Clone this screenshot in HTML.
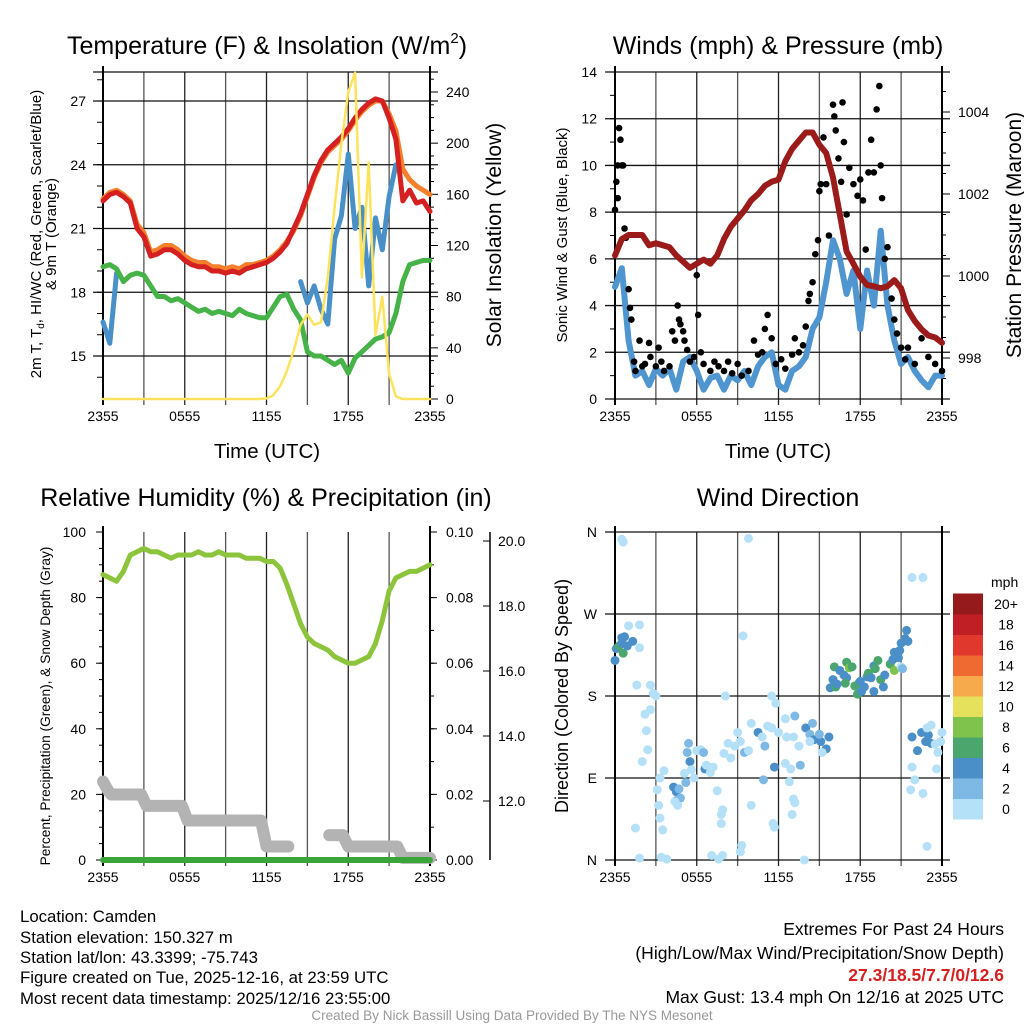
<!DOCTYPE html>
<html><head><meta charset="utf-8"><style>
body{margin:0;background:#fff;}
svg{display:block;font-family:"Liberation Sans",sans-serif;}
</style></head><body>
<svg id="c" width="1024" height="1024" viewBox="0 0 1024 1024">
<g id="static" fill="#000">
<text x="267" y="54" font-size="25" text-anchor="middle">Temperature (F) &amp; Insolation (W/m<tspan font-size="15" dy="-11">2</tspan><tspan dy="11">)</tspan></text>
<text x="778" y="54" font-size="25" text-anchor="middle">Winds (mph) &amp; Pressure (mb)</text>
<text x="266" y="506" font-size="25" text-anchor="middle">Relative Humidity (%) &amp; Precipitation (in)</text>
<text x="778" y="506" font-size="25" text-anchor="middle">Wind Direction</text>
<text x="267" y="458" font-size="20.5" text-anchor="middle">Time (UTC)</text>
<text x="778" y="458" font-size="20.5" text-anchor="middle">Time (UTC)</text>
<text transform="translate(41,234) rotate(-90)" font-size="15" text-anchor="middle">2m T, T<tspan font-size="10" dy="3">d</tspan><tspan dy="-3">, HI/WC (Red, Green, Scarlet/Blue)</tspan></text>
<text transform="translate(56,234) rotate(-90)" font-size="15" text-anchor="middle">&amp; 9m T (Orange)</text>
<text transform="translate(501,235) rotate(-90)" font-size="21" text-anchor="middle">Solar Insolation (Yellow)</text>
<text transform="translate(567,235) rotate(-90)" font-size="15" text-anchor="middle">Sonic Wind &amp; Gust (Blue, Black)</text>
<text transform="translate(1021,235) rotate(-90)" font-size="21" text-anchor="middle">Station Pressure (Maroon)</text>
<text transform="translate(50,706) rotate(-90)" font-size="13.7" text-anchor="middle">Percent, Precipitation (Green), &amp; Snow Depth (Gray)</text>
<text transform="translate(568,696) rotate(-90)" font-size="18" text-anchor="middle">Direction (Colored By Speed)</text>
<text x="991" y="587" font-size="14">mph</text>
<g font-size="16.8">
<text x="20" y="922">Location: Camden</text>
<text x="20" y="943">Station elevation: 150.327 m</text>
<text x="20" y="963">Station lat/lon: 43.3399; -75.743</text>
<text x="20" y="983">Figure created on Tue, 2025-12-16, at 23:59 UTC</text>
<text x="20" y="1004">Most recent data timestamp: 2025/12/16 23:55:00</text>
</g>
<g font-size="17.5" text-anchor="end">
<text x="1004" y="935">Extremes For Past 24 Hours</text>
<text x="1004" y="959">(High/Low/Max Wind/Precipitation/Snow Depth)</text>
<text x="1004" y="981" fill="#d42020" font-weight="bold">27.3/18.5/7.7/0/12.6</text>
<text x="1004" y="1003">Max Gust: 13.4 mph On 12/16 at 2025 UTC</text>
</g>
<text x="512" y="1020" font-size="13.5" fill="#999" text-anchor="middle">Created By Nick Bassill Using Data Provided By The NYS Mesonet</text>
</g>
</svg>
<script>
// ---------- data ----------
const hours=[];for(let i=0;i<=48;i++)hours.push(i*0.5);
const xTickLabels=["2355","0555","1155","1755","2355"];
const tempRed=[22.3,22.6,22.7,22.5,22.2,21.0,20.6,19.7,19.8,20.0,20.0,19.8,19.5,19.3,19.2,19.2,19.0,19.0,18.9,19.0,18.9,19.1,19.2,19.3,19.4,19.6,19.9,20.3,21.0,21.7,22.6,23.5,24.2,24.7,25.0,25.3,25.7,26.2,26.6,26.9,27.1,27.0,26.2,25.2,22.3,22.8,22.2,22.3,21.8];
const temp9m=[22.4,22.7,22.8,22.6,22.3,21.2,20.8,19.9,20.0,20.2,20.2,20.0,19.7,19.5,19.4,19.4,19.2,19.2,19.1,19.2,19.1,19.3,19.3,19.4,19.5,19.7,20.0,20.4,20.9,21.6,22.5,23.4,24.1,24.6,24.9,25.2,25.6,26.1,26.5,26.8,27.0,27.0,26.4,25.6,23.8,23.3,23.0,22.8,22.6];
const dewGreen=[19.2,19.3,19.1,18.5,18.8,18.9,18.8,18.3,17.8,17.8,17.6,17.7,17.5,17.3,17.1,17.2,17.0,17.1,17.0,16.9,17.2,17.0,16.9,16.8,16.8,17.3,17.8,17.9,17.2,16.7,15.2,15.0,15.0,14.8,14.6,14.8,14.2,14.9,15.2,15.5,15.8,15.9,16.1,17.0,18.5,19.3,19.4,19.5,19.5];
const windChill=[16.6,15.6,18.9,null,null,null,null,null,null,null,null,null,null,null,null,null,null,null,null,null,null,null,null,null,null,null,null,null,null,18.5,17.5,18.3,17.2,16.5,20.5,21.6,24.5,21.0,22.0,18.3,21.5,20.0,22.5,24.0,null,null,null,null,null];
const solar=[0,0,0,0,0,0,0,0,0,0,0,0,0,0,0,0,0,0,0,0,0,0,0,0,0.5,3,10,22,38,58,66,58,60,95,150,200,240,255,95,185,50,80,20,2,0,0,0,0,0];
const tempTicks=[15,18,21,24,27];
const solarTicks=[0,40,80,120,160,200,240];
const windBlue=[4.8,5.6,2.5,1.0,1.2,0.6,1.3,1.0,1.3,0.4,1.6,1.8,1.2,0.4,0.9,1.0,0.4,1.0,0.8,1.2,0.6,1.4,1.8,2.0,0.6,0.4,1.2,1.4,1.8,3.0,3.5,5.0,6.8,6.0,4.5,5.5,3.0,5.5,4.0,7.2,4.0,2.5,1.5,1.8,1.2,0.8,0.5,1.0,1.0];
const pressure=[1000.5,1000.9,1001.0,1001.0,1001.0,1000.75,1000.8,1000.75,1000.7,1000.5,1000.35,1000.2,1000.3,1000.4,1000.3,1000.5,1000.9,1001.2,1001.4,1001.6,1001.85,1002.0,1002.2,1002.3,1002.35,1002.8,1003.1,1003.3,1003.5,1003.5,1003.2,1003.0,1002.4,1001.5,1000.6,1000.3,999.98,999.78,999.75,999.7,999.75,999.9,999.7,999.17,998.9,998.7,998.55,998.5,998.37];
const gustT=[0.0,0.1,0.2,0.2,0.3,0.4,0.5,0.6,0.7,0.8,1.0,1.1,1.2,1.4,1.5,1.8,2.0,2.2,2.5,2.6,3.0,3.2,3.4,3.6,4.0,4.2,4.4,4.6,4.7,4.8,5.0,5.1,5.3,5.5,5.8,6.0,6.1,6.3,6.5,7.0,7.3,7.6,8.0,8.3,8.6,9.0,9.3,9.8,10.2,10.5,10.8,11.0,11.2,11.5,11.8,12.2,12.5,13.0,13.2,13.5,13.8,14.0,14.2,14.3,14.5,14.7,14.9,15.0,15.1,15.3,15.5,15.7,16.0,16.1,16.2,16.4,16.6,16.7,16.8,17.0,17.2,17.5,17.8,18.0,18.2,18.4,18.6,18.8,19.0,19.2,19.4,19.5,19.6,19.8,20.0,20.3,20.5,20.7,21.0,21.3,21.5,22.0,22.5,23.0,23.5,24.0];
const gustV=[8.1,9.3,8.6,10,11.6,11.1,10,10,7.3,6.9,4.7,3.9,3.4,1.6,1.2,2.5,1.4,1.5,2.4,1.8,1.4,2.2,1.6,1.2,1.4,2.9,2.5,4.0,3.4,3.2,2.9,2.5,2.1,1.6,1.8,5.3,3.6,2.0,1.5,1.2,1.6,1.4,1.2,1.6,1.1,1.5,1.0,1.2,2.5,1.9,2.0,3.0,3.6,2.6,1.5,1.7,1.3,1.9,2.6,2.0,2.3,3.1,4.2,4.5,5.0,6.2,6.8,8.9,9.2,11.2,9.2,7.0,12.6,12.1,11.5,10.3,9.3,12.7,11.0,7.9,9.9,9.2,8.7,9.4,8.5,6.4,9.7,11.1,9.7,12.4,13.4,10.0,8.6,6.0,6.5,4.3,3.4,2.8,2.2,1.7,2.2,1.5,2.6,1.8,1.5,1.2];
const windTicks=[0,2,4,6,8,10,12,14];
const presTicks=[998,1000,1002,1004];
const rh=[87,86,85,88,93,94,95,94,94,93,92,93,93,93,94,93,93,94,93,93,93,92,92,92,91,91,89,84,78,72,68,66,65,64,62,61,60,60,61,62,66,73,82,86,87,88,88,89,90];
const precip=[0,0,0,0,0,0,0,0,0,0,0,0,0,0,0,0,0,0,0,0,0,0,0,0,0,0,0,0,0,0,0,0,0,0,0,0,0,0,0,0,0,0,0,0,0,0,0,0,0];
const snowT=[0,0.4,0.6,2.8,3.2,5.8,6.2,11.6,12.0,13.6,null,16.6,17.6,18.0,21.6,22.0,24];
const snowV=[12.6,12.3,12.2,12.2,11.85,11.85,11.4,11.4,10.6,10.6,null,10.95,10.95,10.6,10.6,10.25,10.25];
const rhTicks=[0,20,40,60,80,100];
const precipTicks=["0.00","0.02","0.04","0.06","0.08","0.10"];
const snowTicks=[12,14,16,18,20];
const dirT=[0,0.1,0.3,0.5,0.7,0.6,0.9,0.5,1.0,1.8,1.3,1.8,1.6,0.5,0.6,2.6,2.8,2.6,2.3,2.4,2.0,2.2,3.0,3.1,3.2,3.3,3.5,1.5,1.8,3.3,3.6,4.3,4.5,4.7,4.5,4.8,5.2,5.3,5.4,5.5,5.1,5.6,4.4,4.6,5.8,6.0,6.3,6.5,6.6,6.7,7.0,7.2,7.5,7.8,7.9,7.8,7.1,7.6,7.9,3.4,3.8,8.0,8.3,8.5,8.8,9.0,9.2,9.5,9.8,10.0,10.5,10.8,11.0,11.2,11.5,11.7,12.0,12.5,12.6,11.5,11.8,12.5,12.9,13.1,13.5,13.6,10.0,10.9,9.2,9.3,11.6,11.7,13.0,13.2,13.1,12.8,13.9,9.8,9.4,8.1,13.2,14.0,14.3,14.6,15.1,15.5,15.0,15.7,14.5,14.3,15.2,15.8,16.0,16.1,16.2,16.5,16.8,17.0,17.2,17.4,17.0,17.6,17.9,17.8,18.1,18.3,18.5,18.6,18.8,19.0,19.1,19.3,19.0,19.5,19.7,19.8,20.2,20.4,20.5,20.8,20.9,21.0,21.3,21.5,21.0,21.1,20.5,21.4,18.0,16.9,16.3,21.8,22.2,22.5,22.8,23.0,23.2,22.9,23.5,23.9,24.0,23.7,21.8,22.0,22.6,21.7,23.2,23.6,22.9,21.8,22.6];
const dirDeg=[219,232,235,238,245,227,235,244,257,258,240,233,192,352,349,192,183,165,142,121,108,160,180,77,60,46,33,35,2,90,98,80,75,78,65,68,85,118,128,108,95,99,64,60,90,120,121,118,100,104,96,102,76,50,55,40,5,1,5,3,1,117,128,112,125,140,130,118,120,150,140,135,125,147,145,102,140,155,135,180,172,106,100,135,125,104,60,88,9,16,40,36,50,63,67,86,0,353,246,180,158,145,138,132,130,122,138,135,150,130,118,189,198,212,190,208,203,217,211,212,200,191,194,182,185,190,201,205,200,213,210,219,185,198,190,203,215,220,208,222,230,238,243,240,212,210,228,252,196,194,193,135,120,140,130,137,128,145,127,130,140,118,102,88,73,77,148,100,15,310,310];
const dirSpd=[4,4,6,5,4,6,4,4,1,1,4,1,1,1,1,1,1,1,1,1,1,1,1,1,1,1,1,1,1,1,1,4,4,3,4,3,3,3,3,4,1,1,1,1,1,1,1,3,4,1,1,1,1,1,1,1,1,1,1,1,1,1,1,1,1,1,1,3,1,1,4,1,3,1,1,4,1,1,1,1,1,1,1,1,1,3,1,3,1,1,1,1,1,1,1,1,1,1,1,1,3,4,3,4,4,4,3,4,3,1,1,4,4,6,6,4,4,6,8,6,4,6,6,6,4,4,4,6,4,4,6,6,4,6,4,4,6,4,8,4,4,4,4,4,1,2,4,4,4,6,4,4,4,4,4,4,4,1,1,1,1,1,1,1,1,1,1,1,1,1,1];
const dirLabels=["N","E","S","W","N"];
const cbLabels=["0","2","4","6","8","10","12","14","16","18","20+"];
const cbColors=["#b5e1f8","#7db9e4","#4a8fc7","#4aa66c","#7fc24c","#e6e15c","#f6aa4c","#ef6a30","#e0382c","#bf1f25","#951a1b"];

// ---------- helpers ----------
const NS="http://www.w3.org/2000/svg";const svg=document.getElementById('c');
function mk(tag,attrs,parent){const e=document.createElementNS(NS,tag);for(const k in attrs)e.setAttribute(k,attrs[k]);(parent||svg).appendChild(e);return e;}
function lin(d0,d1,r0,r1){return v=>r0+(v-d0)*(r1-r0)/(d1-d0);}
function pathFrom(xs,ys,fx,fy){let d="",pen=false;for(let i=0;i<xs.length;i++){if(ys[i]==null||xs[i]==null){pen=false;continue;}d+=(pen?"L":"M")+fx(xs[i]).toFixed(1)+","+fy(ys[i]).toFixed(1);pen=true;}return d;}
function grp(name){const g=mk('g',{});return g;}

function frame(name,x0,x1,y0,y1,hLines,hGrid){
  const g=grp(name+'-grid');
  for(let i=0;i<=8;i++){const x=x0+(x1-x0)*i/8;
    const l=mk('line',{x1:x,x2:x,y1:y0,y2:y1+6,stroke:(i%2?'#555':'#222'),'stroke-width':1.3},g);
    
    }
  if(hGrid)hLines.forEach(y=>{const l=mk('line',{x1:x0-10,x2:x1+8,y1:y,y2:y,stroke:'#111','stroke-width':1.3},g);
    
    });
  const a=mk('line',{x1:x0,x2:x0,y1:y0-6,y2:y1+6,stroke:'#000','stroke-width':2},g);
  
  
  const b=mk('line',{x1:x1,x2:x1,y1:y0-6,y2:y1+6,stroke:'#000','stroke-width':2},g);
  
  
  xTickLabels.forEach((s,i)=>{const t=mk('text',{x:x0+(x1-x0)*i/4,y:y1+22,'font-size':14,'text-anchor':'middle'},g);t.textContent=s;
    
    });
}
function label(g,x,y,s,anchor){const t=mk('text',{x:x,y:y+5,'font-size':14,'text-anchor':anchor},g);t.textContent=s;
  
  }
function tick(g,x,y,len){const l=mk('line',{x1:x,x2:x+len,y1:y,y2:y,stroke:'#000','stroke-width':1},g);
  
  }

// ===== Panel 1 =====
const P1={x0:103,x1:430,y0:72,y1:399};
const x1f=lin(0,24,P1.x0,P1.x1), yT=lin(15,27,356,101), yS=lin(0,240,399,92);
frame('temp',P1.x0,P1.x1,P1.y0,P1.y1,tempTicks.map(yT).concat([P1.y0]),true);
{const g=grp('temp-axes');
 tempTicks.forEach(v=>label(g,86,yT(v),String(v),'end'));
 for(let v=14;v<=28;v++)if(yT(v)>=P1.y0&&yT(v)<=P1.y1)tick(g,P1.x0-6,yT(v),6);
 solarTicks.forEach(v=>label(g,446,yS(v),String(v),'start'));
 for(let v=0;v<=250;v+=10)tick(g,P1.x1,yS(v),(v%40?4:8));}
function series(name,xs,ys,fx,fy,color,w){const p=mk('path',{d:pathFrom(xs,ys,fx,fy),fill:'none',stroke:color,'stroke-width':w,'stroke-linejoin':'round','stroke-linecap':'round'});
  
  return p;}
series('windchill-line',hours,windChill,x1f,yT,'#4a90c8',5);
series('dewpoint-line',hours,dewGreen,x1f,yT,'#45b347',5);
series('temp-9m-line',hours,temp9m,x1f,yT,'#f4802c',5);
series('temp-2m-line',hours,tempRed,x1f,yT,'#d42020',5);
series('solar-line',hours,solar,x1f,yS,'#fde35c',2.5);

// ===== Panel 2 =====
const P2={x0:615,x1:942,y0:72,y1:399};
const x2f=lin(0,24,P2.x0,P2.x1), yW=lin(0,14,399,72), yP=lin(998,1004,358,112);
frame('winds',P2.x0,P2.x1,P2.y0,P2.y1,windTicks.map(yW),true);
{const g=grp('winds-axes');
 windTicks.forEach(v=>label(g,597,yW(v),String(v),'end'));
 for(let v=0;v<=14;v++)tick(g,P2.x0-5,yW(v),5);
 presTicks.forEach(v=>label(g,958,yP(v),String(v),'start'));
 for(let v=997.5;v<=1005;v+=0.5)if(yP(v)>=P2.y0&&yP(v)<=P2.y1)tick(g,P2.x1,yP(v),(v%2?4:8));}
series('sonic-wind-line',hours,windBlue,x2f,yW,'#4f95cf',6);
{const g=grp('gust-points');
 for(let i=0;i<gustT.length;i++){const c=mk('circle',{cx:x2f(gustT[i]),cy:yW(gustV[i]),r:3.3,fill:'#000'},g);
  
  }}
series('pressure-line',hours,pressure,x2f,yP,'#9b1b1b',6);

// ===== Panel 3 =====
const P3={x0:103,x1:430,y0:532,y1:860};
const x3f=lin(0,24,P3.x0,P3.x1), yR=lin(0,100,860,532), yPr=lin(0,0.1,860,532), ySn=lin(12,20,801,541);
frame('humidity',P3.x0,P3.x1,P3.y0,P3.y1,[],false);
{const g=grp('humidity-axes');
 rhTicks.forEach(v=>{label(g,86,yR(v),String(v),'end');tick(g,P3.x0-7,yR(v),7);});
 for(let v=0;v<=100;v+=5)tick(g,P3.x0-4,yR(v),4);
 precipTicks.forEach(v=>{label(g,446,yPr(+v),v,'start');tick(g,P3.x1,yPr(+v),7);});
 for(let v=0;v<=0.1;v+=0.01)tick(g,P3.x1,yPr(v),4);
 const ax=mk('line',{x1:490,x2:490,y1:532,y2:860,stroke:'#000','stroke-width':1.5},g);
 
 
 snowTicks.forEach(v=>{label(g,498,ySn(v),v.toFixed(1),'start');tick(g,490,ySn(v),-7);});}
series('snow-depth-line',snowT,snowV,x3f,ySn,'#b3b3b3',12);
series('precip-line',hours,precip,x3f,yPr,'#3aa63a',6);
series('rh-line',hours,rh,x3f,yR,'#8cc43c',5);

// ===== Panel 4 =====
const P4={x0:615,x1:942,y0:532,y1:860};
const x4f=lin(0,24,P4.x0,P4.x1), yD=lin(0,360,860,532);
frame('direction',P4.x0,P4.x1,P4.y0,P4.y1,[0,90,180,270,360].map(yD),true);
{const g=grp('direction-axes');
 dirLabels.forEach((s,i)=>label(g,597,yD(i*90),s,'end'));}
function spdColor(s){return cbColors[Math.min(10,Math.floor(s/2))];}
{const g=grp('direction-points');
 for(let i=0;i<dirT.length;i++){const c=mk('circle',{cx:x4f(dirT[i]),cy:yD(dirDeg[i]),r:4.5,fill:spdColor(dirSpd[i])},g);
  
  }}
{const g=grp('speed-colorbar');
 const bh=20.5;
 cbColors.forEach((c,i)=>{const y=819-(i+1)*bh;
  const r=mk('rect',{x:953,y:y,width:30,height:bh+0.5,fill:c},g);
  
  
  const t=mk('text',{x:1006,y:y+bh/2+5,'font-size':14,'text-anchor':'middle'},g);t.textContent=cbLabels[i];
  
  });}
</script>
</body></html>
